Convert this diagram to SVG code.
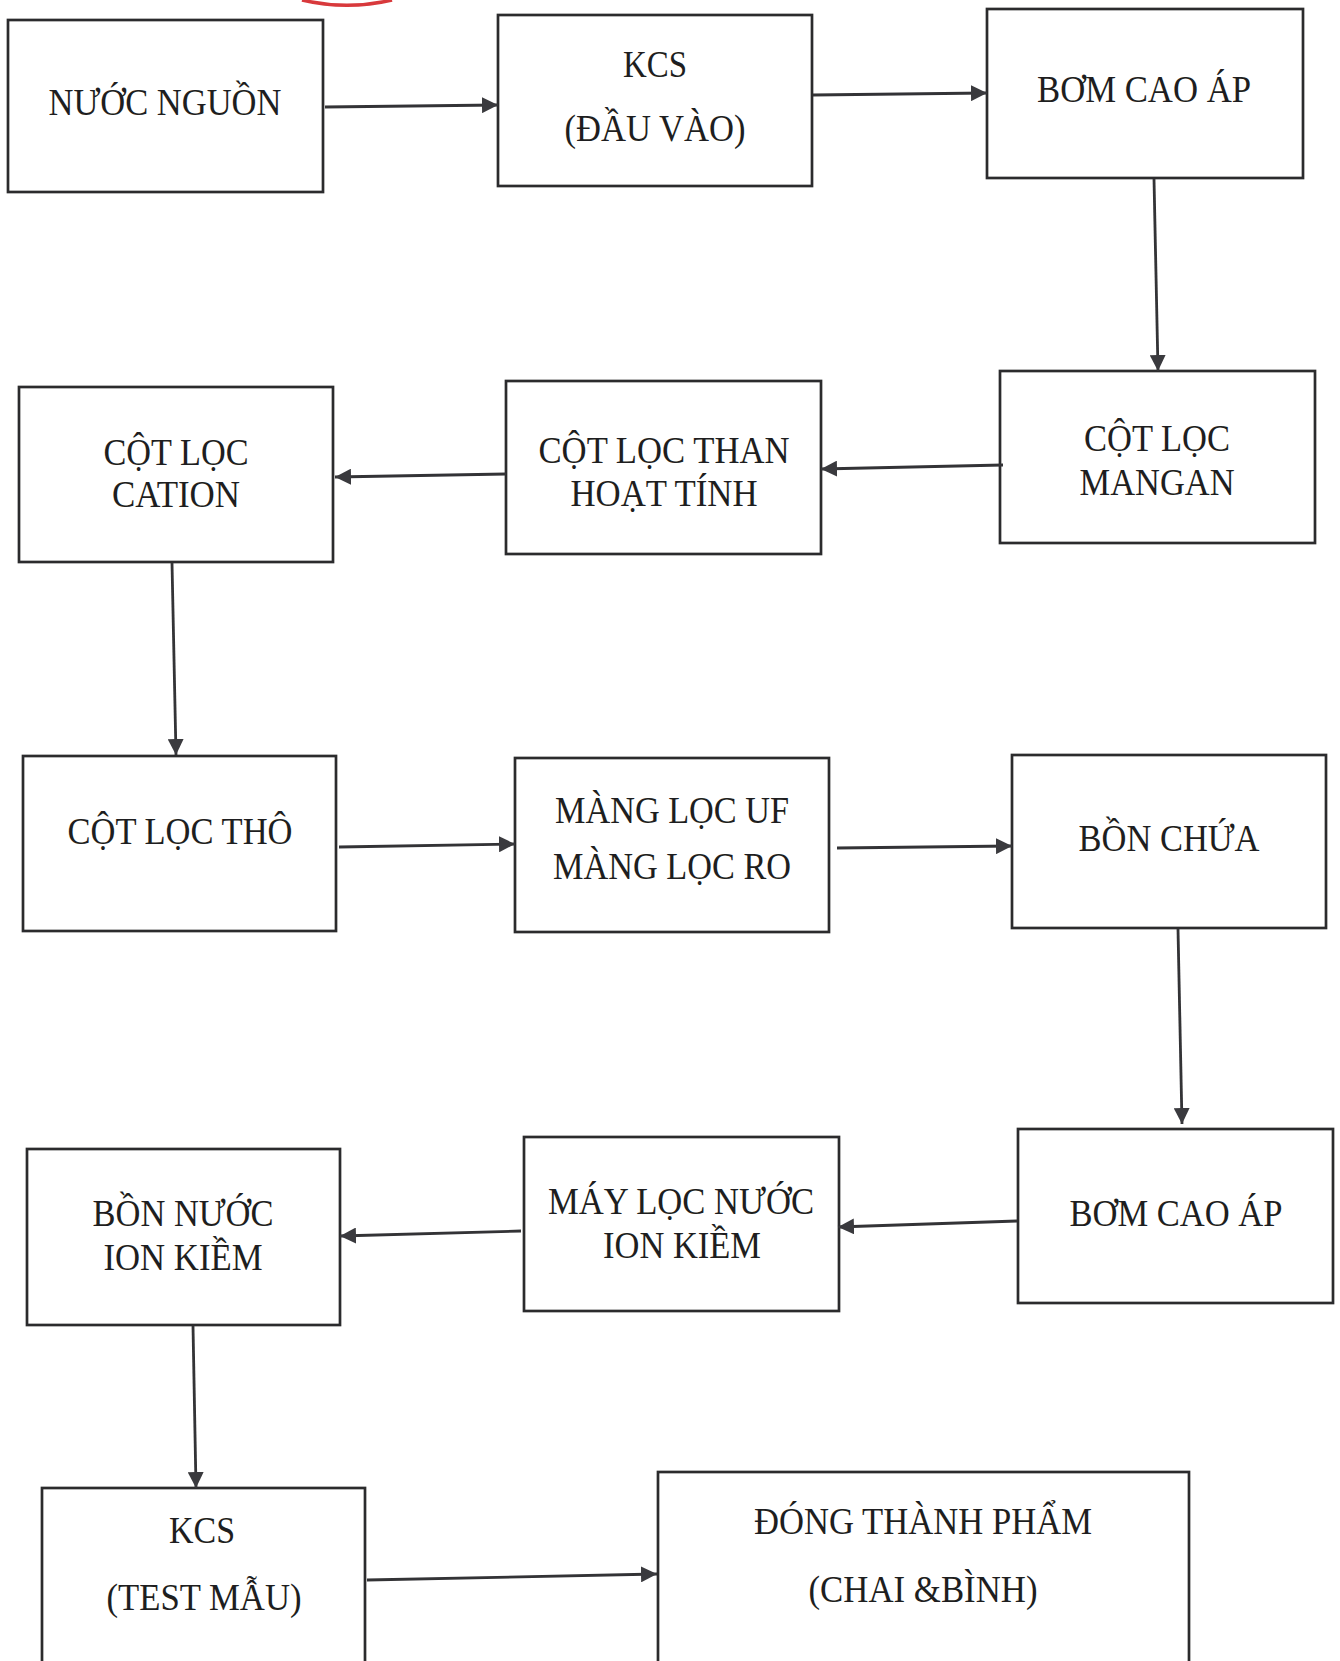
<svg xmlns="http://www.w3.org/2000/svg" width="1340" height="1661" viewBox="0 0 1340 1661">
<style>
.box{fill:#ffffff;stroke:#2b2b2d;stroke-width:2.7}
.t{font-family:"Liberation Serif","Times New Roman",serif;font-size:38px;fill:#1e1e20;text-anchor:middle}
.c{stroke:#333336;stroke-width:2.8;fill:none}
</style>
<defs>
<marker id="ah" viewBox="0 0 16 16" refX="16" refY="8" markerWidth="16" markerHeight="16" markerUnits="userSpaceOnUse" orient="auto">
<path d="M0,0 L16,8 L0,16 z" fill="#3a3a3e"/>
</marker>
</defs>
<rect width="1340" height="1661" fill="#ffffff"/>
<path d="M302 0 A196 196 0 0 0 392 0" fill="none" stroke="#d8393c" stroke-width="3.5"/>

<g id="n1"><rect class="box" x="8" y="20" width="315" height="172"/><text class="t" x="165" y="115" textLength="233" lengthAdjust="spacingAndGlyphs">NƯỚC NGUỒN</text></g>
<g id="n2"><rect class="box" x="498" y="15" width="314" height="171"/><text class="t" x="655" y="77" textLength="64" lengthAdjust="spacingAndGlyphs">KCS</text><text class="t" x="655" y="141" textLength="181" lengthAdjust="spacingAndGlyphs">(ĐẦU VÀO)</text></g>
<g id="n3"><rect class="box" x="987" y="9" width="316" height="169"/><text class="t" x="1144" y="102" textLength="214" lengthAdjust="spacingAndGlyphs">BƠM CAO ÁP</text></g>
<g id="n4"><rect class="box" x="1000" y="371" width="315" height="172"/><text class="t" x="1157" y="451" textLength="146" lengthAdjust="spacingAndGlyphs">CỘT LỌC</text><text class="t" x="1157" y="495" textLength="155" lengthAdjust="spacingAndGlyphs">MANGAN</text></g>
<g id="n5"><rect class="box" x="506" y="381" width="315" height="173"/><text class="t" x="664" y="463" textLength="251" lengthAdjust="spacingAndGlyphs">CỘT LỌC THAN</text><text class="t" x="664" y="506" textLength="187" lengthAdjust="spacingAndGlyphs">HOẠT TÍNH</text></g>
<g id="n6"><rect class="box" x="19" y="387" width="314" height="175"/><text class="t" x="176" y="465" textLength="145" lengthAdjust="spacingAndGlyphs">CỘT LỌC</text><text class="t" x="176" y="507" textLength="128" lengthAdjust="spacingAndGlyphs">CATION</text></g>
<g id="n7"><rect class="box" x="23" y="756" width="313" height="175"/><text class="t" x="180" y="844" textLength="225" lengthAdjust="spacingAndGlyphs">CỘT LỌC THÔ</text></g>
<g id="n8"><rect class="box" x="515" y="758" width="314" height="174"/><text class="t" x="672" y="823" textLength="234" lengthAdjust="spacingAndGlyphs">MÀNG LỌC UF</text><text class="t" x="672" y="879" textLength="238" lengthAdjust="spacingAndGlyphs">MÀNG LỌC RO</text></g>
<g id="n9"><rect class="box" x="1012" y="755" width="314" height="173"/><text class="t" x="1169" y="851" textLength="181" lengthAdjust="spacingAndGlyphs">BỒN CHỨA</text></g>
<g id="n10"><rect class="box" x="1018" y="1129" width="315" height="174"/><text class="t" x="1176" y="1226" textLength="213" lengthAdjust="spacingAndGlyphs">BƠM CAO ÁP</text></g>
<g id="n11"><rect class="box" x="524" y="1137" width="315" height="174"/><text class="t" x="681" y="1214" textLength="266" lengthAdjust="spacingAndGlyphs">MÁY LỌC NƯỚC</text><text class="t" x="682" y="1258" textLength="158" lengthAdjust="spacingAndGlyphs">ION KIỀM</text></g>
<g id="n12"><rect class="box" x="27" y="1149" width="313" height="176"/><text class="t" x="183" y="1226" textLength="181" lengthAdjust="spacingAndGlyphs">BỒN NƯỚC</text><text class="t" x="183" y="1270" textLength="159" lengthAdjust="spacingAndGlyphs">ION KIỀM</text></g>
<g id="n13"><rect class="box" x="42" y="1488" width="323" height="190"/><text class="t" x="202" y="1543" textLength="66" lengthAdjust="spacingAndGlyphs">KCS</text><text class="t" x="204" y="1610" textLength="195" lengthAdjust="spacingAndGlyphs">(TEST MẪU)</text></g>
<g id="n14"><rect class="box" x="658" y="1472" width="531" height="206"/><text class="t" x="923" y="1534" textLength="338" lengthAdjust="spacingAndGlyphs">ĐÓNG THÀNH PHẨM</text><text class="t" x="923" y="1602" textLength="229" lengthAdjust="spacingAndGlyphs">(CHAI &amp;BÌNH)</text></g>

<g id="connectors">
<line class="c" x1="325" y1="107" x2="498" y2="105" marker-end="url(#ah)"/>
<line class="c" x1="813" y1="95" x2="987" y2="93" marker-end="url(#ah)"/>
<line class="c" x1="1154" y1="179" x2="1158" y2="371" marker-end="url(#ah)"/>
<line class="c" x1="1003" y1="465" x2="821" y2="469" marker-end="url(#ah)"/>
<line class="c" x1="506" y1="474" x2="335" y2="477" marker-end="url(#ah)"/>
<line class="c" x1="172" y1="563" x2="176" y2="755" marker-end="url(#ah)"/>
<line class="c" x1="339" y1="847" x2="515" y2="844" marker-end="url(#ah)"/>
<line class="c" x1="837" y1="848" x2="1012" y2="846" marker-end="url(#ah)"/>
<line class="c" x1="1178" y1="929" x2="1182" y2="1124" marker-end="url(#ah)"/>
<line class="c" x1="1017" y1="1221" x2="838" y2="1227" marker-end="url(#ah)"/>
<line class="c" x1="521" y1="1231" x2="340" y2="1236" marker-end="url(#ah)"/>
<line class="c" x1="193" y1="1326" x2="196" y2="1488" marker-end="url(#ah)"/>
<line class="c" x1="367" y1="1580" x2="657" y2="1574" marker-end="url(#ah)"/>
</g>
</svg>
